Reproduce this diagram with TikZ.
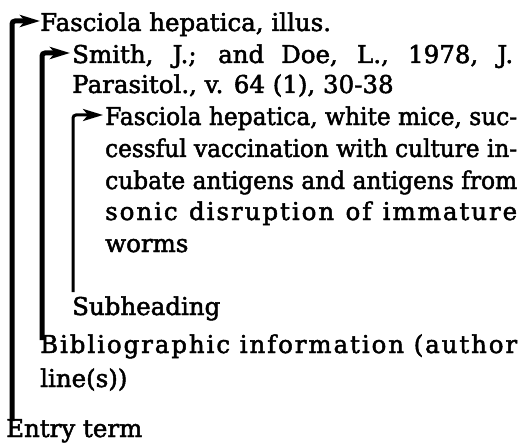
\documentclass[tikz,border=0pt]{standalone}
\usepackage{fontspec}
\usepackage{graphicx}
\setmainfont[FakeBold=2]{DejaVu Serif}
\newfontfamily\spacedfont[LetterSpace=8,FakeBold=2]{DejaVu Serif}
\usetikzlibrary{arrows.meta,calc}
\newsavebox\fitbox
\newcommand\fitline[2]{\sbox\fitbox{#2}%
  \ifdim\wd\fitbox>#1\relax
    \pgfmathsetmacro\fitratio{#1/\wd\fitbox}%
    \scalebox{\fitratio}[1]{\usebox\fitbox}%
  \else\makebox[#1][s]{#2}\fi}
\tikzset{
  txt/.style={anchor=base west, inner sep=0pt, font=\fontsize{24.5}{28}\selectfont},
  stxt/.style={anchor=base west, inner sep=0pt, font=\fontsize{24.5}{28}\spacedfont},
  bracket/.style={line width=#1, rounded corners=3pt,
    -{Stealth[length=20pt,width=12pt,inset=5pt]}},
}
\begin{document}
\begin{tikzpicture}[x=1pt,y=-1pt]
\useasboundingbox[fill=white] (0,0) rectangle (520,444);
% text
\node[txt] (t1) at (40,31) {Fasciola hepatica, illus.};
\node[txt] (t2a) at (72,63) {\fitline{441pt}{Smith, J.; and Doe, L., 1978, J.}};
\node[txt] (t2b) at (72,93) {Parasitol., v. 64 (1), 30-38};
\node[txt] (t3a) at (105,125) {\fitline{412pt}{Fasciola hepatica, white mice, suc-}};
\node[txt] (t3b) at (105,157) {\fitline{412pt}{cessful vaccination with culture in-}};
\node[txt] (t3c) at (105,189) {\fitline{412pt}{cubate antigens and antigens from}};
\node[stxt] (t3d) at (105,220) {\fitline{412pt}{sonic disruption of immature}};
\node[txt] (t3e) at (105,252) {worms};
\node[txt] (sub) at (72,315) {Subheading};
\node[stxt] (bib1) at (40,353) {\fitline{477pt}{Bibliographic information (author}};
\node[txt] (bib2) at (40,387) {line(s))};
\node[txt] (entry) at (6,437) {Entry term};
% bracket ends
\coordinate (e1) at (12,421);
\coordinate (e2) at (42,340);
\coordinate (e3) at (73,292);
\draw[bracket=5pt] (e1) |- ($(t1.base west)+(0,-10)$);
\draw[bracket=5pt] (e2) |- ($(t2a.base west)+(-2,-10)$);
\draw[bracket=3pt] (e3) |- ($(t3a.base west)+(-2,-10)$);
\end{tikzpicture}
\end{document}
